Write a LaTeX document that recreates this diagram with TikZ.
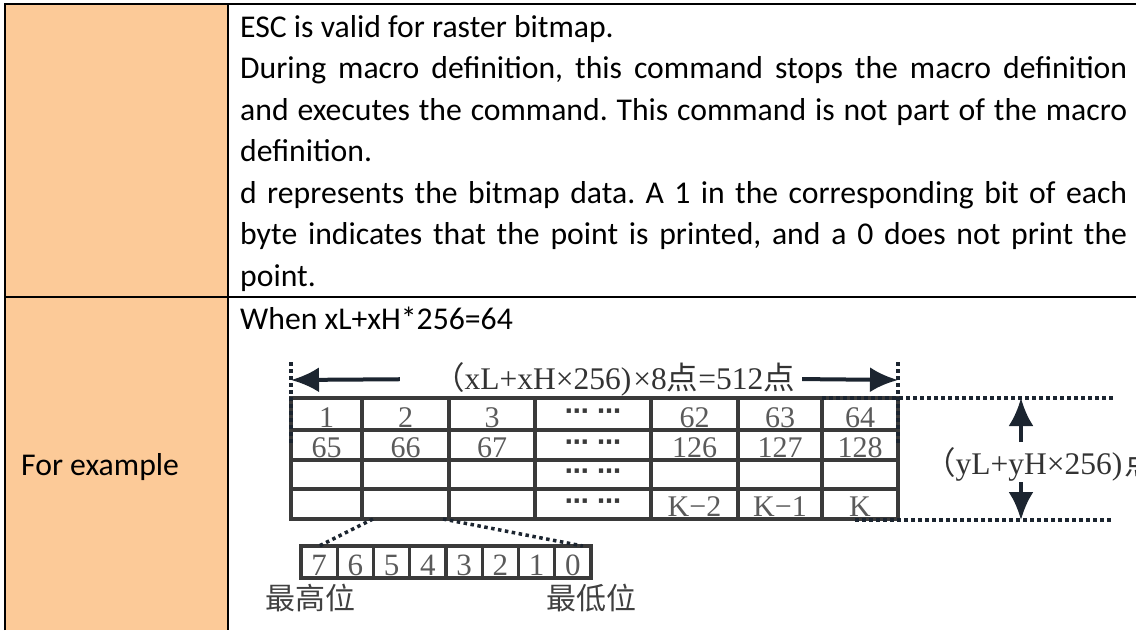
\documentclass[tikz,border=0pt]{standalone}
\usepackage{fontspec}
\setmainfont{Carlito}
\newfontfamily\cjk{Noto Sans CJK SC}
\newfontfamily\dgm{Liberation Serif}
\newfontfamily\sym{DejaVu Sans}
\usetikzlibrary{arrows.meta,positioning,calc}
\frenchspacing

\definecolor{peach}{HTML}{FCCA98}
\definecolor{gridgray}{HTML}{3A3A3A}
\definecolor{numgray}{HTML}{5A5A5A}
\definecolor{inkdark}{HTML}{1C2530}

\newcommand{\jline}[1]{\makebox[887pt][s]{#1}}

\begin{document}
\begin{tikzpicture}[x=1pt,y=-1pt,>=Latex,
  txtline/.style={anchor=base west,inner sep=0pt,font=\fontsize{31.7}{38}\selectfont},
  frame/.style={line width=1.4pt,black},
  cell/.style={draw=gridgray,line width=3.4pt,inner sep=0pt,outer sep=0pt},
  num/.style={anchor=base,inner sep=0pt,text=numgray,font=\dgm\fontsize{30}{30}\selectfont},
  bitnum/.style={anchor=base,inner sep=0pt,text=numgray,font=\dgm\fontsize{31}{31}\selectfont},
  dots/.style={inner sep=0pt,text=gridgray,font=\sym\bfseries\fontsize{24}{24}\selectfont},
  hdr/.style={inner sep=0pt,text=black!80,font=\dgm\fontsize{31.5}{31.5}\selectfont},
  cjklabel/.style={inner sep=0pt,text=black!75,font=\cjk\fontsize{30}{30}\selectfont},
  dimarrow/.style={line width=4pt,inkdark,-{Latex[length=28pt,width=25pt]}},
  guide/.style={line width=3.5pt,inkdark,dash pattern=on 3.5pt off 3.5pt},
  zoomline/.style={line width=3.5pt,inkdark,dash pattern=on 3.5pt off 3.5pt}]
  \clip (0,0) rectangle (1136,630);
  % outer table
  \fill[peach] (5,4) rectangle (228,630);
  \draw[frame] (5,630) -- (5,4) -- (1136,4);
  \draw[frame] (228,4) -- (228,630);
  \draw[frame] (5,297) -- (1136,297);
  % first row text
  \node[txtline] (l1) at (240,37) {ESC is valid for raster bitmap.};
  \node[txtline] (l2) at (240,78.5) {\jline{During macro definition, this command stops the macro definition}};
  \node[txtline] (l3) at (240,120) {\jline{and executes the command. This command is not part of the macro}};
  \node[txtline] (l4) at (240,161.5) {definition.};
  \node[txtline] (l5) at (240,203) {\jline{d represents the bitmap data. A 1 in the corresponding bit of each}};
  \node[txtline] (l6) at (240,244.5) {\jline{byte indicates that the point is printed, and a 0 does not print the}};
  \node[txtline] (l7) at (240,286) {point.};
  % second row
  \node[txtline] (ex) at (21,475) {For example};
  \node[txtline] (when) at (240,329) {When xL+xH*256=64};
  % dot matrix
  \foreach \xa/\xb [count=\col] in {291/362,362/449,449/535,535/651,651/738,738/822,822/898}
    \foreach \ya/\yb [count=\row] in {398/430,430/460,460/489,489/519}
      \node[cell,minimum width=\xb-\xa,minimum height=\yb-\ya] (c\row\col) at ({(\xa+\xb)/2},{(\ya+\yb)/2}) {};
  \foreach \row/\col/\t in {1/1/1,1/2/2,1/3/3,1/5/62,1/6/63,1/7/64,2/1/65,2/2/66,2/3/67,2/5/126,2/6/127,2/7/128,4/5/K−2,4/6/K−1,4/7/K}
    \node[num] (n\row\col) at ([yshift=3pt]c\row\col.south) {\t};
  \foreach \row in {1,...,4}
    \node[dots] (d\row) at (c\row4) {⋯ ⋯};
  % one byte
  \foreach \b [count=\i] in {7,6,...,0} {
    \node[cell,minimum width=36.25,minimum height=32] (b\b) at ({301+36.25*(\i-0.5)},562) {};
    \node[bitnum] (t\b) at ([yshift=3pt]b\b.south) {\b};
  }
  \draw[zoomline] ([xshift=11pt]c42.south west) -- (b7.north);
  \draw[zoomline] ([xshift=-6pt]c42.south east) -- ([xshift=10pt]b0.north);
  \node[cjklabel] (msb) at (310,598) {最高位};
  \node[cjklabel] (lsb) at (591,598) {最低位};
  % width
  \coordinate (wl) at (291,380);
  \coordinate (wr) at (898,380);
  \node[hdr] (wlab) at (614,379) {{\cjk （}xL+xH×256)\kern2pt×8{\cjk 点}=512{\cjk 点}};
  \draw[dimarrow,shorten <=33pt] (wlab.west) -- (wl);
  \draw[dimarrow,shorten <=7pt] (wlab.east) -- (wr);
  \draw[guide] ($(wl)+(0,-18)$) -- (c21.west);
  \draw[guide] ($(wr)+(0,-18)$) -- (c27.east);
  % height
  \coordinate (gt) at (1116,398);
  \coordinate (gb) at (1112,520);
  \draw[guide] (c17.north west) -- (gt);
  \draw[guide] ($(c47.south east)+(-43,1)$) -- (gb);
  \node[hdr,anchor=west] (hlab) at (924,464) {{\cjk （}yL+yH×256)\kern2pt{\cjk 点}};
  \coordinate (ht) at (1021,398);
  \coordinate (hu) at (1021,442);
  \coordinate (hd) at (1021,482);
  \coordinate (hb) at (1021,520);
  \draw[dimarrow] (hu) -- (ht);
  \draw[dimarrow] (hd) -- (hb);
\end{tikzpicture}
\end{document}
